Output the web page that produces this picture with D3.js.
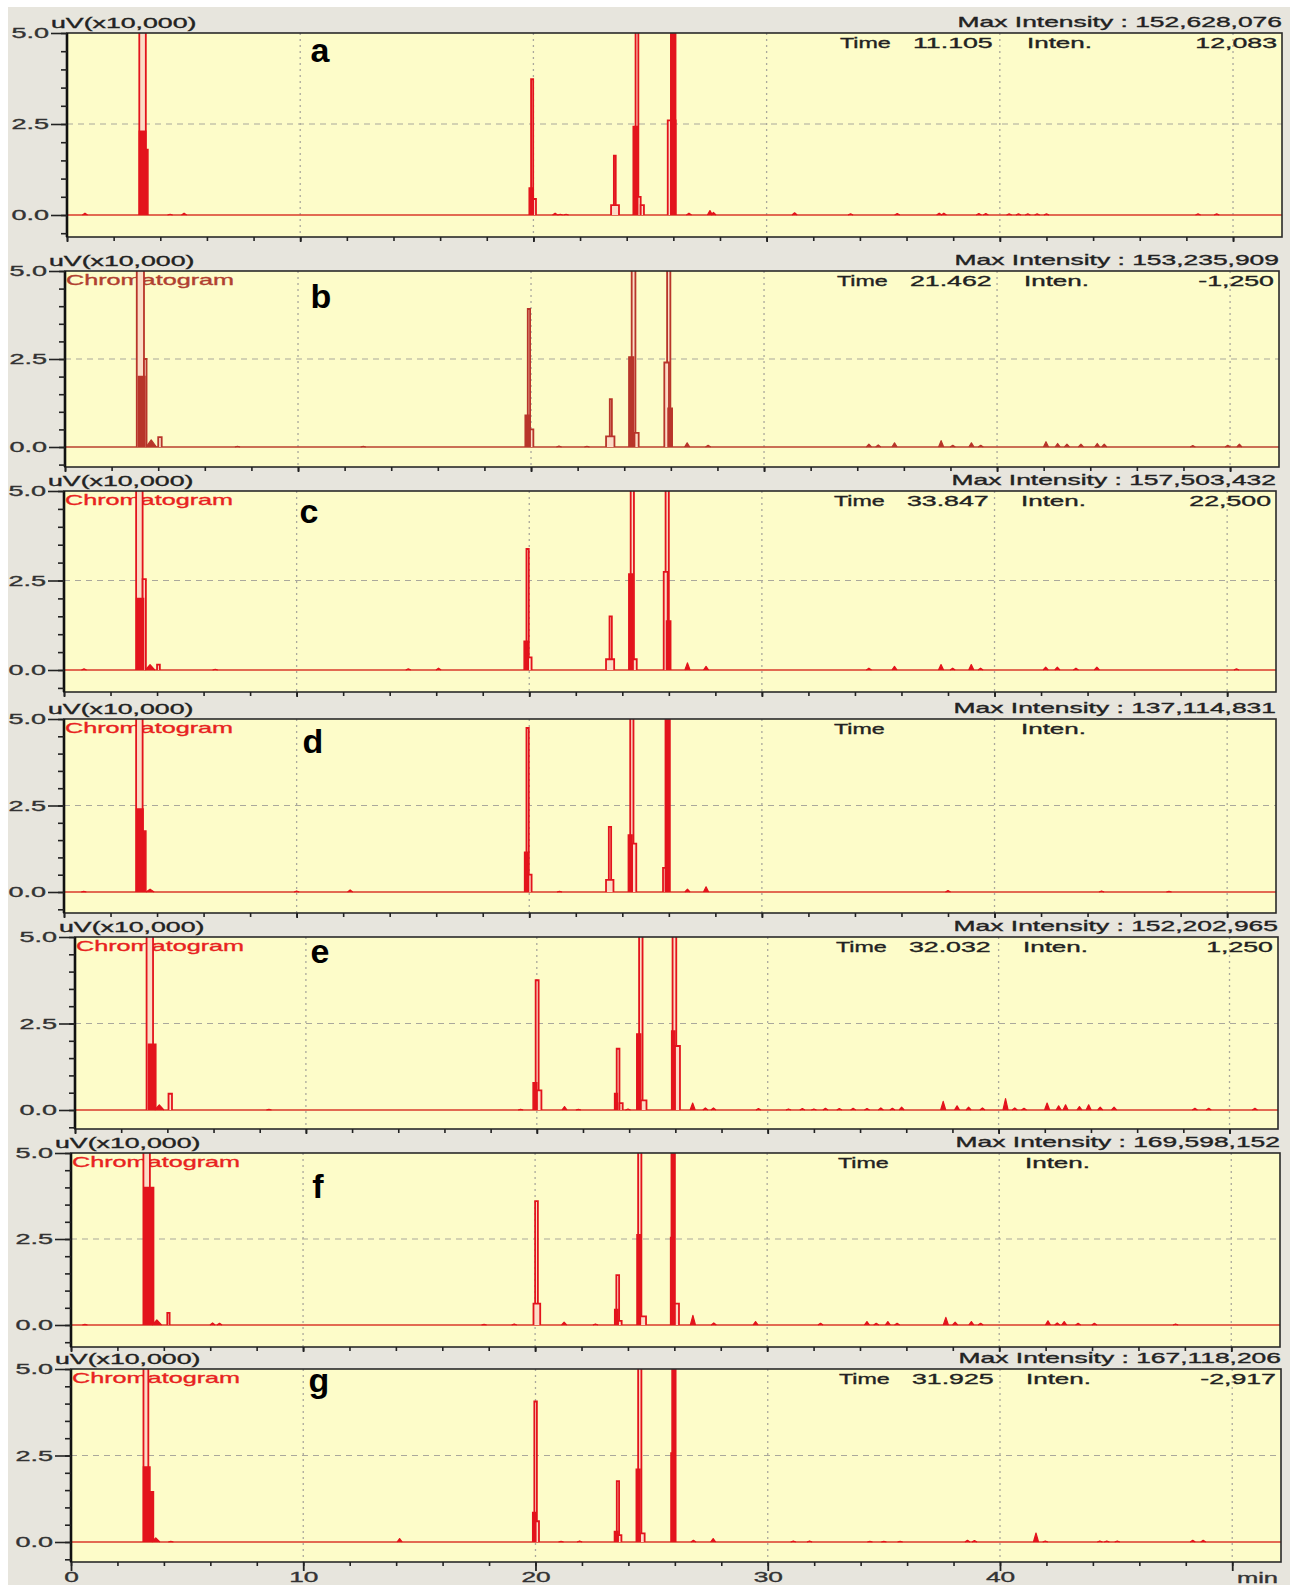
<!DOCTYPE html>
<html><head><meta charset="utf-8">
<script src="https://cdn.jsdelivr.net/npm/d3@7"></script>
<style>
body{margin:0;background:#fff}
svg{display:block}
text{font-family:"Liberation Sans",Arial,sans-serif}
</style>
</head><body>
<svg id="chart" width="1290" height="1585"></svg>
<script>
// ---------------- DATA ----------------
const panelLabels = ['a','b','c','d','e','f','g'];
const maxIntensity = ['152,628,076','153,235,909','157,503,432','137,114,831','152,202,965','169,598,152','167,118,206'];
const cursorTime  = ['11.105','21.462','33.847','','32.032','','31.925'];
const cursorInten = ['12,083','-1,250','22,500','','1,250','','-2,917'];
const showChromLabel = [false,true,true,true,true,true,true];
const yTickValues = [0, 2.5, 5.0];
const yTickLabels = ['0.0','2.5','5.0'];
const xTickValues = [0,10,20,30,40,50];
const xTickLabels = ['0','10','20','30','40',''];
const xUnit = 'min';
const yUnit = 'uV(x10,000)';
const X_END = 52.1;
const OFF = 6; // off-scale (clipped above 5.0)

// peaks: [start min, end min, height (x10,000 uV), filled?]
const peaksA = [
 [3.10,3.38,OFF,0],[3.10,3.38,2.3,1],[3.38,3.47,1.8,1],
 [19.90,19.99,3.73,0],[19.82,19.99,0.74,1],[19.99,20.11,0.44,0],
 [23.33,23.67,0.27,0],[23.45,23.53,1.63,0],
 [24.28,24.46,2.43,1],[24.38,24.50,OFF,0],[24.46,24.60,0.5,0],[24.60,24.74,0.27,0],
 [25.76,26.10,2.6,0],[25.89,26.10,OFF,1]
];
const peaksB = [
 [3.08,3.39,OFF,0],[3.15,3.43,2.0,1],[3.39,3.50,2.5,0],[4.00,4.15,0.28,0],
 [19.86,19.96,3.92,0],[19.75,19.95,0.9,1],[19.95,20.10,0.5,0],
 [23.22,23.58,0.3,0],[23.38,23.47,1.36,0],
 [24.20,24.40,2.56,1],[24.32,24.48,OFF,0],[24.44,24.62,0.4,0],
 [25.72,25.92,2.4,0],[25.84,25.98,OFF,0],[25.88,26.06,1.1,1]
];
const peaksC = [
 [3.10,3.38,OFF,0],[3.12,3.42,2.0,1],[3.38,3.52,2.54,0],[4.00,4.12,0.15,0],
 [19.88,19.98,3.38,0],[19.78,19.95,0.8,1],[19.95,20.10,0.35,0],
 [23.30,23.65,0.3,0],[23.45,23.55,1.5,0],
 [24.28,24.45,2.68,1],[24.36,24.50,OFF,0],[24.45,24.62,0.3,0],
 [25.78,25.95,2.74,0],[25.86,26.00,OFF,0],[25.90,26.08,1.37,1]
];
const peaksD = [
 [3.10,3.38,OFF,0],[3.12,3.40,2.4,1],[3.40,3.52,1.76,1],
 [19.88,19.98,4.74,0],[19.80,19.96,1.15,1],[19.96,20.10,0.5,0],
 [23.30,23.62,0.35,0],[23.42,23.52,1.88,0],
 [24.26,24.42,1.65,1],[24.34,24.48,OFF,0],[24.42,24.60,1.4,0],
 [25.75,25.92,0.7,0],[25.85,26.05,OFF,1]
];
const peaksE = [
 [3.10,3.38,OFF,0],[3.18,3.50,1.9,1],[4.05,4.20,0.47,0],
 [19.95,20.08,3.75,0],[19.84,20.00,0.79,1],[20.00,20.20,0.57,0],
 [23.46,23.58,1.77,0],[23.37,23.49,0.48,1],[23.58,23.72,0.2,0],
 [24.33,24.50,2.2,1],[24.43,24.58,OFF,0],[24.50,24.75,0.28,0],
 [25.84,25.98,2.28,1],[25.88,26.04,OFF,0],[25.98,26.20,1.85,0]
];
const peaksF = [
 [3.12,3.40,OFF,0],[3.15,3.56,4.0,1],[4.15,4.25,0.35,0],
 [20.00,20.12,3.6,0],[19.93,20.22,0.62,0],
 [23.50,23.62,1.45,0],[23.43,23.57,0.45,1],[23.57,23.73,0.12,0],
 [24.39,24.53,2.62,1],[24.44,24.58,OFF,0],[24.53,24.78,0.25,0],
 [25.84,25.98,2.54,1],[25.87,26.03,OFF,1],[25.98,26.20,0.62,0]
];
const peaksG = [
 [3.12,3.33,OFF,0],[3.12,3.40,2.17,1],[3.40,3.55,1.45,1],
 [19.95,20.06,4.06,0],[19.88,20.00,0.85,1],[20.00,20.15,0.6,0],
 [23.50,23.60,1.76,0],[23.40,23.55,0.3,1],[23.55,23.70,0.2,0],
 [24.34,24.50,2.1,1],[24.42,24.56,OFF,0],[24.50,24.70,0.25,0],
 [25.84,25.98,2.57,0],[25.88,26.04,OFF,1]
];

// small baseline peaks: [time min, height, optional width min]
const bumpsA = [[0.77,0.05],[4.42,0.02],[5.02,0.05],[20.93,0.05],[21.15,0.02],[21.4,0.02],[26.67,0.05],[27.57,0.12],[27.72,0.07],[31.2,0.06],[33.6,0.03],[35.6,0.04],[37.4,0.05],[37.6,0.05],[39.1,0.04],[39.4,0.04],[40.4,0.03],[40.8,0.03],[41.2,0.03],[41.6,0.03],[42.0,0.03],[48.5,0.03],[49.3,0.03]];
const bumpsB = [[3.7,0.2,0.45],[7.4,0.02],[12.8,0.02],[21.2,0.03],[22.4,0.02],[26.7,0.12],[27.6,0.05],[34.5,0.08],[34.9,0.06],[35.6,0.12],[37.6,0.18],[38.1,0.05],[38.9,0.12],[39.3,0.05],[42.1,0.15],[42.6,0.1],[43.0,0.08],[43.6,0.08],[44.3,0.1],[44.6,0.08],[48.4,0.04],[49.9,0.05],[50.4,0.08]];
const bumpsC = [[0.86,0.03],[3.7,0.15,0.4],[6.5,0.02],[14.8,0.03],[16.1,0.05],[26.8,0.2],[27.6,0.1],[34.6,0.05],[35.7,0.1],[37.7,0.15],[38.2,0.05],[39.0,0.15],[39.4,0.05],[42.2,0.08],[42.7,0.08],[43.5,0.05],[44.4,0.08],[50.4,0.03]];
const bumpsD = [[0.85,0.02],[3.7,0.08,0.35],[10.0,0.03],[12.3,0.06],[21.3,0.02],[26.8,0.08],[27.6,0.15],[38.0,0.04],[44.6,0.03],[47.5,0.02]];
const bumpsE = [[3.65,0.15,0.4],[8.4,0.02],[19.3,0.02],[21.2,0.1],[21.8,0.02],[23.95,0.03],[26.75,0.2],[27.3,0.06],[27.65,0.06],[29.6,0.04],[30.9,0.03],[31.5,0.04],[32.0,0.03],[32.5,0.05],[33.1,0.04],[33.7,0.05],[34.3,0.04],[34.9,0.06],[35.4,0.05],[35.8,0.08],[37.6,0.25],[38.2,0.12],[38.7,0.08],[39.3,0.06],[40.3,0.33],[40.7,0.06],[41.1,0.05],[42.1,0.2],[42.6,0.12],[42.9,0.15],[43.5,0.1],[43.9,0.15],[44.4,0.08],[45.0,0.08],[48.5,0.05],[49.1,0.05],[51.1,0.05]];
const bumpsF = [[0.6,0.02],[3.7,0.15,0.4],[6.1,0.06],[6.4,0.05],[17.8,0.02],[19.1,0.03],[21.25,0.08],[22.6,0.03],[26.8,0.28],[27.7,0.06],[29.5,0.1],[32.3,0.05],[34.3,0.1],[34.7,0.05],[35.2,0.1],[35.6,0.05],[37.7,0.22],[38.1,0.08],[38.8,0.1],[39.2,0.05],[42.1,0.12],[42.5,0.06],[42.8,0.1],[43.4,0.05],[44.1,0.05],[47.6,0.03]];
const bumpsG = [[3.65,0.12,0.35],[4.3,0.02],[14.15,0.1],[21.1,0.02],[21.9,0.03],[26.8,0.05],[27.65,0.1],[31.1,0.03],[31.8,0.03],[34.4,0.02],[35.0,0.02],[35.7,0.02],[38.6,0.05],[38.9,0.04],[41.55,0.26],[41.95,0.03],[44.3,0.03],[44.6,0.03],[45.05,0.03],[48.3,0.05],[48.75,0.05]];

const peakSets = [peaksA,peaksB,peaksC,peaksD,peaksE,peaksF,peaksG];
const bumpSets = [bumpsA,bumpsB,bumpsC,bumpsD,bumpsE,bumpsF,bumpsG];

// ---------------- LAYOUT (pixels) ----------------
const layout = [
 {left:67, right:1282, top:33,   zero:215,  bottom:237,  lx:320, ly:62},
 {left:65, right:1279, top:271,  zero:447,  bottom:467,  lx:321, ly:308},
 {left:64, right:1276, top:491,  zero:670,  bottom:692,  lx:309, ly:523},
 {left:64, right:1276, top:719,  zero:892,  bottom:913,  lx:313, ly:753},
 {left:75, right:1278, top:937,  zero:1110, bottom:1129, lx:320, ly:963},
 {left:71, right:1280, top:1153, zero:1325, bottom:1347, lx:318, ly:1198},
 {left:71, right:1281, top:1369, zero:1542, bottom:1562, lx:319, ly:1392}
];

const SX = 1.76;
const TXT = '#222';
const RED = '#e3141c';
const PALE = '#fbdcc6';

function stretch(sel, sx){
  sel.each(function(){
    const L = this.getComputedTextLength();
    if (L > 0){ this.setAttribute('textLength', L*sx); this.setAttribute('lengthAdjust','spacingAndGlyphs'); }
  });
  sel.attr('stroke', function(){ return this.getAttribute('fill'); }).attr('stroke-width', 0.35);
}

const svg = d3.select('#chart');
svg.append('rect').attr('x',8).attr('y',7).attr('width',1282).attr('height',1578).attr('fill','#e7e5dd');
const defs = svg.append('defs');

layout.forEach((L, i) => {
  const col = i === 1 ? '#b8352a' : RED;
  const baseCol = i === 1 ? '#b8402e' : '#d83a2a';
  const x = d3.scaleLinear().domain([0, X_END]).range([L.left, L.right]);
  const y = d3.scaleLinear().domain([0, 5]).range([L.zero, L.top]);
  const g = svg.append('g');

  // plot area
  g.append('rect').attr('x',L.left).attr('y',L.top).attr('width',L.right-L.left).attr('height',L.bottom-L.top)
    .attr('fill','#fdfcc9');

  // grid
  g.append('g').selectAll('line').data([10,20,30,40,50]).join('line')
    .attr('x1',d=>x(d)).attr('x2',d=>x(d)).attr('y1',L.top).attr('y2',L.bottom)
    .attr('stroke','#aaa89c').attr('stroke-width',1.3).attr('stroke-dasharray','2,4');
  g.append('line').attr('x1',L.left).attr('x2',L.right).attr('y1',y(2.5)).attr('y2',y(2.5))
    .attr('stroke','#aaa89c').attr('stroke-width',1.2).attr('stroke-dasharray','6,5');

  // unit label
  const uv = g.append('text').attr('x',L.left-16).attr('y',L.top-5).attr('font-size',15).attr('fill',TXT).text(yUnit);
  stretch(uv, 1.78);

  // max intensity
  const mi = g.append('text').attr('x',L.right).attr('y',L.top-6).attr('text-anchor','end')
    .attr('font-size',15).attr('fill',TXT).text('Max Intensity : ' + maxIntensity[i]);
  stretch(mi, SX);

  // cursor readout
  const ty = L.top + 15;
  const t1 = g.append('text').attr('x',L.right-442).attr('y',ty).attr('font-size',15).attr('fill',TXT).text('Time');
  stretch(t1, 1.55);
  if (cursorTime[i]) { const t2 = g.append('text').attr('x',L.right-369).attr('y',ty).attr('font-size',15).attr('fill',TXT).text(cursorTime[i]); stretch(t2, 1.78); }
  const t3 = g.append('text').attr('x',L.right-255).attr('y',ty).attr('font-size',15).attr('fill',TXT).text('Inten.');
  stretch(t3, 1.73);
  if (cursorInten[i]) { const t4 = g.append('text').attr('x',L.right-5).attr('y',ty).attr('text-anchor','end').attr('font-size',15).attr('fill',TXT).text(cursorInten[i]); stretch(t4, 1.78); }

  if (showChromLabel[i]) {
    const ch = g.append('text').attr('x',L.left+1).attr('y',L.top+14).attr('font-size',15)
      .attr('fill', i === 1 ? '#b04030' : '#e8231f').text('Chromatogram');
    stretch(ch, 1.68);
  }

  // chromatogram trace
  const clipId = 'clip' + i;
  defs.append('clipPath').attr('id',clipId).append('rect')
    .attr('x',L.left).attr('y',L.top).attr('width',L.right-L.left).attr('height',L.bottom-L.top);
  const pg = g.append('g').attr('clip-path',`url(#${clipId})`);
  const line = d3.line().x(d=>x(d[0])).y(d=>y(d[1]));

  pg.append('path').attr('d', line([[0,0],[X_END,0]])).attr('fill','none').attr('stroke',baseCol).attr('stroke-width',1.7);

  bumpSets[i].forEach(b => {
    const w = (b[2] || 0.22) / 2;
    pg.append('path').attr('d', line([[b[0]-w,0],[b[0],b[1]],[b[0]+w,0]]))
      .attr('fill',col).attr('stroke',col).attr('stroke-width',1.2).attr('stroke-linejoin','round');
  });

  const peaks = peakSets[i];
  peaks.filter(p => !p[3]).sort((a,b) => b[2]-a[2]).forEach(p => {
    pg.append('path').attr('d', line([[p[0],0],[p[0],p[2]],[p[1],p[2]],[p[1],0]]))
      .attr('fill',PALE).attr('stroke',col).attr('stroke-width',1.8);
  });
  peaks.filter(p => p[3]).forEach(p => {
    pg.append('path').attr('d', line([[p[0],0],[p[0],p[2]],[p[1],p[2]],[p[1],0]]))
      .attr('fill',col).attr('stroke',col).attr('stroke-width',1.5);
  });

  // frame
  g.append('rect').attr('x',L.left).attr('y',L.top).attr('width',L.right-L.left).attr('height',L.bottom-L.top)
    .attr('fill','none').attr('stroke','#2a2a2a').attr('stroke-width',1.6);
  g.append('line').attr('x1',L.left).attr('x2',L.left).attr('y1',L.top).attr('y2',L.bottom)
    .attr('stroke','#111').attr('stroke-width',2.6);

  // y axis ticks
  const yMinor = d3.axisLeft(y).tickValues(d3.range(-0.5, 5.01, 0.5)).tickSize(6).tickFormat('');
  const ya = g.append('g').attr('transform',`translate(${L.left},0)`).call(yMinor);
  ya.select('.domain').remove();
  ya.selectAll('line').attr('stroke','#222').attr('stroke-width',1.6);
  const yMajor = d3.axisLeft(y).tickValues(yTickValues).tickSize(16).tickPadding(2)
    .tickFormat((d,j) => yTickLabels[j]);
  const yb = g.append('g').attr('transform',`translate(${L.left},0)`).call(yMajor);
  yb.select('.domain').remove();
  yb.selectAll('line').attr('stroke','#222').attr('stroke-width',1.6);
  yb.selectAll('text').attr('font-size',15).attr('fill','#333').attr('font-family','"Liberation Sans",Arial,sans-serif');
  stretch(yb.selectAll('text'), 1.8);

  // x axis ticks
  const xMinor = d3.axisBottom(x).tickValues(d3.range(0, 52, 2)).tickSize(4).tickFormat('');
  const xa = g.append('g').attr('transform',`translate(0,${L.bottom})`).call(xMinor);
  xa.select('.domain').remove();
  xa.selectAll('line').attr('stroke','#222').attr('stroke-width',1.6);
  const last = i === layout.length - 1;
  const xMajor = d3.axisBottom(x).tickValues(xTickValues).tickSize(last ? 9 : 5).tickPadding(0)
    .tickFormat((d,j) => last ? xTickLabels[j] : '');
  const xb = g.append('g').attr('transform',`translate(0,${L.bottom})`).call(xMajor);
  xb.select('.domain').remove();
  xb.selectAll('line').attr('stroke','#222').attr('stroke-width',1.8);
  xb.selectAll('text').attr('font-size',15).attr('fill','#333').attr('font-family','"Liberation Sans",Arial,sans-serif');
  stretch(xb.selectAll('text'), 1.75);
  if (last) {
    const mt = g.append('text').attr('x',L.right-3).attr('y',L.bottom+21).attr('text-anchor','end')
      .attr('font-size',15).attr('fill','#333').text(xUnit);
    stretch(mt, 1.7);
  }

  // panel letter
  g.append('text').attr('x',L.lx).attr('y',L.ly).attr('text-anchor','middle')
    .attr('font-family','"Open Sans","Noto Sans",sans-serif').attr('font-weight',700)
    .attr('font-size',34).attr('fill','#000').text(panelLabels[i]);
});
</script>
</body></html>
